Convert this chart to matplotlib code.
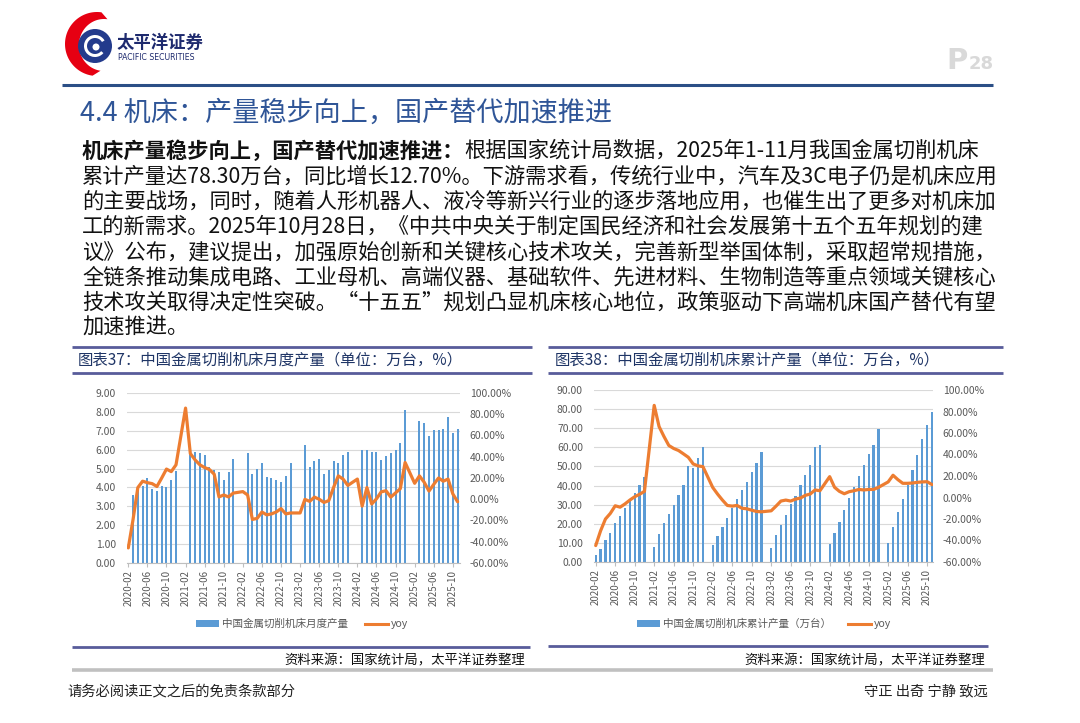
import numpy as np
import pandas as pd
import matplotlib
matplotlib.use("Agg")
import matplotlib.pyplot as plt
from matplotlib.patches import Patch, Polygon, Circle, Wedge
from matplotlib.lines import Line2D
from matplotlib.ticker import FuncFormatter

plt.rcParams['font.family'] = ['Noto Sans CJK SC', 'DejaVu Sans']

# categories: every month 2020-02 .. 2025-11 (Jan kept as empty slot, like the Excel source)
months = [p.strftime('%Y-%m') for p in pd.period_range('2020-02', '2025-11', freq='M')]
nan = np.nan

# monthly output (万台), Jan/Feb not published separately
monthly_output = [
    nan, 3.6, 4.0, 4.1, 4.5, 3.9, 3.8, 4.1, 4.0, 4.4, 4.87,               # 2020-02..12
    nan, nan, 5.9, 5.9, 5.8, 5.7, 5.1, 4.9, 4.8, 4.4, 4.8, 5.5,           # 2021
    nan, nan, 5.8, 4.7, 5.0, 5.3, 4.55, 4.5, 4.4, 4.3, 4.6, 5.3,          # 2022
    nan, nan, 6.25, 5.1, 5.4, 5.5, 4.7, 4.9, 5.4, 5.3, 5.7, 5.9,          # 2023
    nan, nan, 6.0, 6.0, 5.9, 5.9, 5.45, 5.65, 5.8, 6.0, 6.35, 8.1,        # 2024
    nan, nan, 7.5, 7.4, 6.7, 7.05, 7.05, 7.1, 7.75, 6.9, 7.1,             # 2025-01..11
]
monthly_yoy = [
    -45.8, -19.0, 11.0, 17.0, 15.6, 14.7, 12.0, 20.0, 28.4, 26.0, 32.4,
    nan, 85.8, 43.0, 37.0, 32.4, 29.8, 28.0, 23.6, 2.2, 4.0, 2.2, 5.8,
    nan, 7.2, 4.0, -19.0, -18.0, -12.0, -14.7, -13.8, -12.0, -8.8, -13.8, -12.9,
    nan, -12.9, -0.1, -2.0, 2.0, 0.0, -3.0, -1.3, 11.0, 22.0, 19.0, 13.0,
    nan, 19.0, -6.5, 11.0, -4.5, 0.4, 7.0, 8.0, 2.0, 6.0, 10.0, 34.6,
    nan, 15.0, 22.0, 16.0, 7.7, 14.0, 20.0, 17.0, 19.0, 5.0, -2.4,
]

# cumulative output (万台)
cum_output = [
    3.5, 7.0, 11.4, 15.4, 20.3, 24.2, 28.0, 32.0, 36.0, 40.1, 44.5,
    nan, 7.7, 14.5, 20.3, 25.2, 29.6, 35.0, 40.1, 50.0, 49.0, 54.5, 60.2,
    nan, 8.9, 13.5, 18.4, 23.1, 28.0, 33.1, 37.5, 41.7, 46.9, 52.0, 57.3,
    nan, 7.5, 14.0, 19.1, 24.5, 30.3, 34.7, 40.1, 45.5, 50.8, 60.4, 61.3,
    nan, 9.5, 15.4, 21.0, 27.1, 33.4, 39.0, 44.8, 50.6, 56.6, 61.3, 69.5,
    nan, 10.2, 18.2, 26.3, 32.9, 40.5, 48.3, 56.2, 64.3, 71.5, 78.3,
]
cum_yoy = [
    -44.7, -31.0, -20.0, -14.8, -7.7, -9.0, -6.0, -2.4, 0.7, 3.0, 5.7,
    nan, 85.7, 66.0, 56.8, 48.4, 45.6, 43.7, 40.6, 37.4, 31.2, 29.4, 28.7,
    nan, 9.4, 3.2, -2.4, -7.4, -8.0, -7.4, -10.0, -10.5, -11.8, -13.0, -13.3,
    nan, -12.4, -8.0, -3.3, -2.4, -3.3, -1.5, -0.5, 2.0, 3.2, 7.0, 6.3,
    nan, 19.4, 9.5, 5.7, 3.5, 5.4, 6.3, 7.5, 7.0, 7.5, 7.5, 9.4,
    nan, 14.5, 20.7, 16.6, 13.2, 13.2, 13.5, 14.1, 14.5, 14.7, 12.0,
]

BLUE = "#5b9bd5"
ORANGE = "#ed7d31"
TICK = "#595959"
FRAME = "#585c9a"
NAVY = "#1f3566"

W, H = 1080, 723
fig = plt.figure(figsize=(W / 100, H / 100), dpi=100)
bg = fig.add_axes([0, 0, 1, 1])
bg.set_xlim(0, W)
bg.set_ylim(H, 0)
bg.axis('off')


def px_axes(x0, y0, x1, y1):
    return fig.add_axes([x0 / W, 1 - y1 / H, (x1 - x0) / W, (y1 - y0) / H])


def hline(y, x0, x1, color, lw):
    bg.plot([x0, x1], [y, y], color=color, lw=lw, solid_capstyle='butt')


# ---- logo ----
t = np.radians(np.linspace(82, 262, 60))
outer = np.c_[97 + 32 * np.cos(t), 44 - 32 * np.sin(t)]
inner = np.c_[104 + 25 * np.cos(t[::-1]), 45 - 26 * np.sin(t[::-1])]
bg.add_patch(Polygon(np.r_[outer, inner], closed=True, color="#e60012", lw=0))
bg.add_patch(Circle((95, 46), 17, color="#233b8c", lw=0))
bg.add_patch(Wedge((95, 46), 11, 40, 330, width=3, color="white", lw=0))
bg.add_patch(Circle((96, 47), 3.5, color="white", lw=0))
bg.text(117, 43, "太平洋证券", fontsize=12.5, fontweight='bold', color="#1e2a6e",
        va='center', ha='left')
bg.text(118, 57, "PACIFIC SECURITIES", fontsize=5.6, color="#1e2a6e",
        va='center', ha='left', family='DejaVu Sans')

bg.text(946, 69, "P", fontsize=21, fontweight='bold', color="#d9d9d9",
        va='baseline', ha='left', family='DejaVu Sans')
bg.text(969, 69, "28", fontsize=13, fontweight='bold', color="#d9d9d9",
        va='baseline', ha='left', family='DejaVu Sans')

hline(85, 62, 993, "#2b4f86", 2.2)

# ---- heading + body ----
bg.text(80, 113, "4.4 机床：产量稳步向上，国产替代加速推进", fontsize=19.5,
        color="#2f5597", va='center', ha='left')

body = [
    "累计产量达78.30万台，同比增长12.70%。下游需求看，传统行业中，汽车及3C电子仍是机床应用",
    "的主要战场，同时，随着人形机器人、液冷等新兴行业的逐步落地应用，也催生出了更多对机床加",
    "工的新需求。2025年10月28日，《中共中央关于制定国民经济和社会发展第十五个五年规划的建",
    "议》公布，建议提出，加强原始创新和关键核心技术攻关，完善新型举国体制，采取超常规措施，",
    "全链条推动集成电路、工业母机、高端仪器、基础软件、先进材料、生物制造等重点领域关键核心",
    "技术攻关取得决定性突破。“十五五”规划凸显机床核心地位，政策驱动下高端机床国产替代有望",
    "加速推进。",
]
BODY_FS = 15.3
y0, dy = 151, 25.3
lead = bg.text(82, y0, "机床产量稳步向上，国产替代加速推进：", fontsize=BODY_FS,
               fontweight='bold', color="#111111", va='center', ha='left')
bg.annotate("根据国家统计局数据，2025年1-11月我国金属切削机床", xy=(1, 0.5),
            xycoords=lead, va='center', ha='left', fontsize=BODY_FS, color="#111111")
for i, line in enumerate(body, start=1):
    bg.text(82, y0 + i * dy, line, fontsize=BODY_FS, color="#111111",
            va='center', ha='left')


# ---- charts ----
def draw_chart(box, vals, yoy, ymax, xlim, bar_w):
    ax = px_axes(*box)
    x = np.arange(len(months))
    v = np.array(vals, float)
    ax.bar(x, v, width=bar_w, color=BLUE, zorder=2)
    ax.set_ylim(0, ymax)
    ax.set_yticks(np.linspace(0, ymax, 10))
    ax.yaxis.set_major_formatter(FuncFormatter(lambda t, _: f"{t:.2f}"))
    ax.grid(axis='y', color='#d9d9d9', lw=0.8)
    ax.set_axisbelow(True)
    ax.set_xlim(*xlim)
    ax.set_xticks(x[::4])
    ax.set_xticklabels(months[::4], rotation=90)
    ax.tick_params(axis='x', length=3, width=0.8, color='#bfbfbf', pad=2,
                   labelsize=7, labelcolor=TICK)
    ax.tick_params(axis='y', length=0, pad=8, labelsize=7.5, labelcolor=TICK)

    ax2 = ax.twinx()
    y = np.array(yoy, float)
    ok = ~np.isnan(y)
    ax2.plot(x[ok], y[ok], color=ORANGE, lw=2.3, solid_joinstyle='round',
             solid_capstyle='round')
    ax2.set_ylim(-60, 100)
    ax2.set_yticks(range(-60, 101, 20))
    ax2.yaxis.set_major_formatter(FuncFormatter(lambda t, _: f"{t:.2f}%"))
    ax2.tick_params(axis='y', length=0, pad=7, labelsize=7.5, labelcolor=TICK)

    for a in (ax, ax2):
        for s in a.spines.values():
            s.set_visible(False)
    ax.spines['bottom'].set_visible(True)
    ax.spines['bottom'].set_color('#bfbfbf')
    ax.spines['bottom'].set_linewidth(0.8)
    return ax


def legend(cx, cy, label):
    handles = [Patch(facecolor=BLUE, edgecolor='none'),
               Line2D([], [], color=ORANGE, lw=2.2)]
    fig.legend(handles, [label, "yoy"], loc='center', bbox_to_anchor=(cx / W, 1 - cy / H),
               ncol=2, frameon=False, fontsize=7.6, labelcolor=TICK,
               handlelength=2.2, handleheight=0.6, handletextpad=0.3, columnspacing=1.6)


# left panel
hline(347, 72, 532, FRAME, 2.0)
bg.text(78, 360, "图表37：中国金属切削机床月度产量（单位：万台，%）", fontsize=11.1,
        color=NAVY, va='center', ha='left')
hline(373, 72, 532, FRAME, 2.0)
draw_chart((127, 393, 460, 563), monthly_output, monthly_yoy, 9, (-0.27, 69.5), 0.42)
legend(302, 624, "中国金属切削机床月度产量")
hline(647, 72, 530, FRAME, 2.0)
bg.text(525, 660, "资料来源：国家统计局，太平洋证券整理", fontsize=9.6,
        color="#111111", va='center', ha='right')
hline(670, 72, 540, "#c0c0c0", 2.6)

# right panel
hline(347, 548, 1003, FRAME, 2.0)
bg.text(555, 360, "图表38：中国金属切削机床累计产量（单位：万台，%）", fontsize=11.1,
        color=NAVY, va='center', ha='left')
hline(373, 548, 1003, FRAME, 2.0)
draw_chart((594, 390, 933, 562), cum_output, cum_yoy, 90, (-0.35, 69.2), 0.45)
legend(764, 624, "中国金属切削机床累计产量（万台）")
hline(646, 548, 988, FRAME, 2.0)
bg.text(985, 660, "资料来源：国家统计局，太平洋证券整理", fontsize=9.6,
        color="#111111", va='center', ha='right')
hline(670, 540, 993, "#c0c0c0", 2.6)

# footer
bg.text(67, 691, "请务必阅读正文之后的免责条款部分", fontsize=10.3, color="#222222",
        va='center', ha='left')
bg.text(988, 691, "守正 出奇 宁静 致远", fontsize=10.3, color="#222222",
        va='center', ha='right')

fig.savefig("out.png", dpi=100, facecolor="white")
